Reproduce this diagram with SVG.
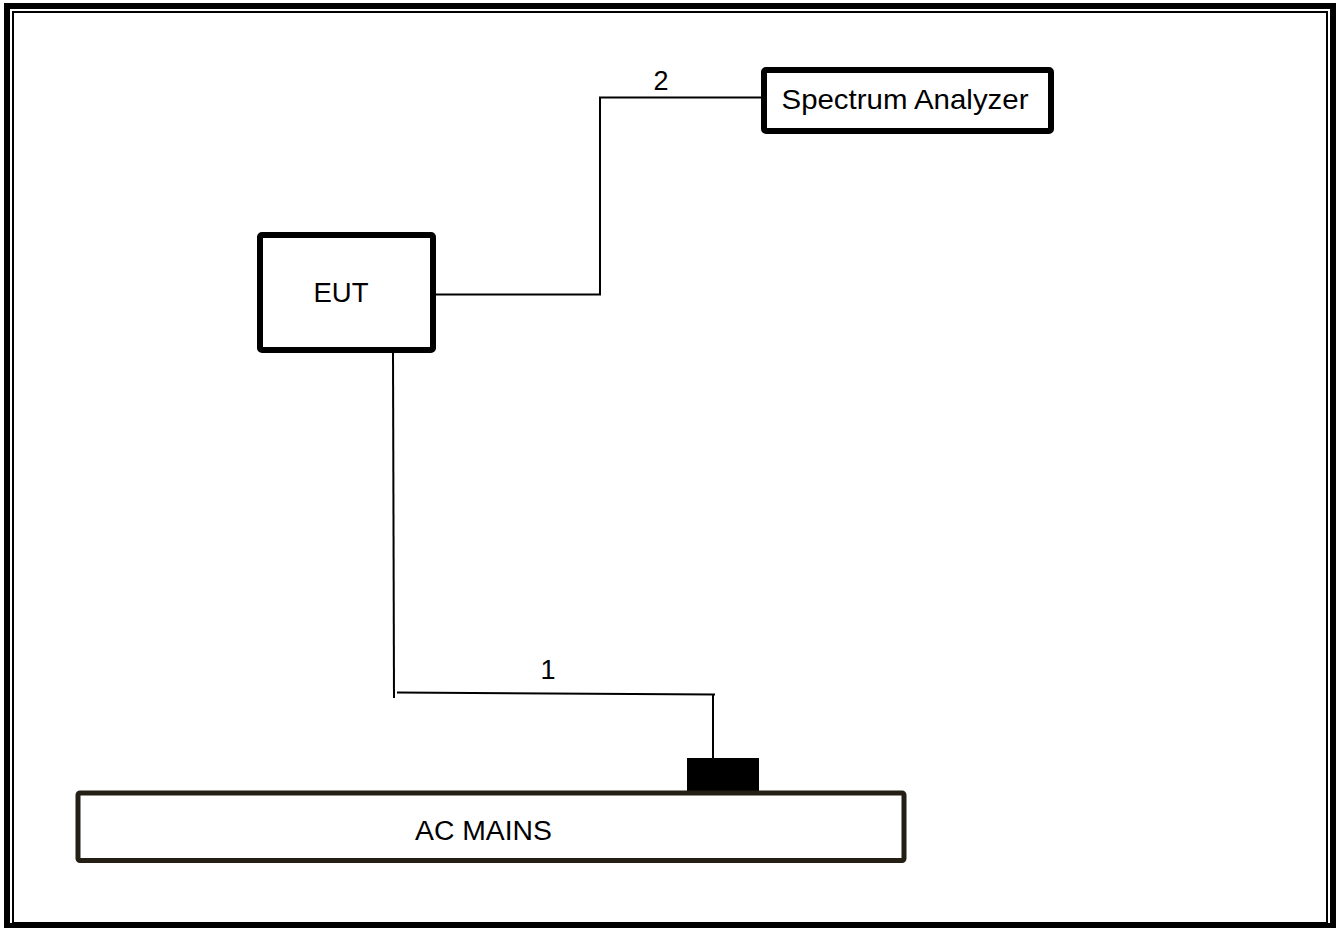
<svg xmlns="http://www.w3.org/2000/svg" width="1336" height="928" viewBox="0 0 1336 928">
<style>
text{font-family:"Liberation Sans",Arial,sans-serif;fill:#000;}
.box{fill:#fff;stroke:#000;stroke-width:6;}
.wire{fill:none;stroke:#000;stroke-width:2;}
</style>
<rect x="0" y="0" width="1336" height="928" fill="#fff"/>
<g id="frame">
<rect x="7" y="6" width="1326" height="920" fill="none" stroke="#000" stroke-width="6"/>
<rect x="13" y="12" width="1314" height="911" fill="none" stroke="#000" stroke-width="2"/>
</g>
<g id="connectors">
<polyline class="wire" points="436,294.5 600,294.5 600,97.5 761,97.5"/>
<line class="wire" x1="393" y1="353" x2="394" y2="698"/>
<polyline class="wire" points="397,692.5 715,694.5"/>
<line class="wire" x1="713" y1="694" x2="713" y2="758"/>
<text x="661" y="90" font-size="27" text-anchor="middle">2</text>
<text x="548" y="679" font-size="27" text-anchor="middle">1</text>
</g>
<g id="eut">
<rect class="box" x="260" y="235" width="173" height="115" rx="2"/>
<text x="341" y="302" font-size="28" text-anchor="middle" textLength="55" lengthAdjust="spacingAndGlyphs">EUT</text>
</g>
<g id="spectrum-analyzer">
<rect class="box" x="764" y="70" width="287" height="61" rx="2"/>
<text x="905" y="109" font-size="28" text-anchor="middle" textLength="247" lengthAdjust="spacingAndGlyphs">Spectrum Analyzer</text>
</g>
<g id="plug">
<rect x="687" y="758" width="72" height="33" fill="#000"/>
</g>
<g id="ac-mains">
<rect x="78" y="793" width="826" height="67.5" rx="2" fill="#fff" stroke="#231f14" stroke-width="5"/>
<text x="483.5" y="840" font-size="27" text-anchor="middle" textLength="137" lengthAdjust="spacingAndGlyphs">AC MAINS</text>
</g>
</svg>
